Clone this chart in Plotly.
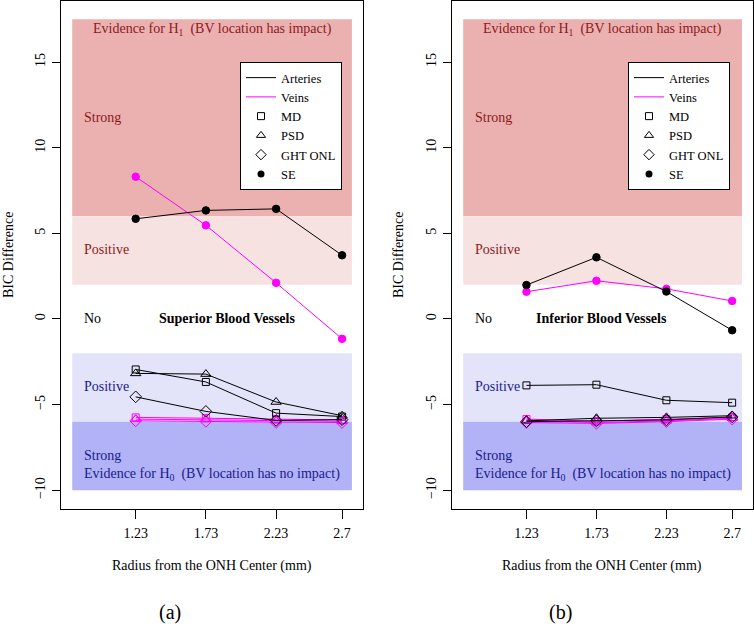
import plotly.graph_objects as go

# ---------------- data ----------------
radius = [1.23, 1.73, 2.23, 2.7]
radius_labels = ["1.23", "1.73", "2.23", "2.7"]
y_ticks = [-10, -5, 0, 5, 10, 15]

# (a) Superior blood vessels
sup_art_md = [-2.95, -3.68, -5.50, -5.70]
sup_art_psd = [-3.18, -3.22, -4.85, -5.65]
sup_art_ght = [-4.55, -5.40, -5.93, -5.88]
sup_art_se = [5.85, 6.34, 6.43, 3.72]
sup_vein_md = [-5.75, -5.78, -5.85, -5.90]
sup_vein_psd = [-5.85, -5.88, -5.95, -5.98]
sup_vein_ght = [-5.95, -5.98, -6.05, -6.05]
sup_vein_se = [8.31, 5.47, 2.11, -1.16]

# (b) Inferior blood vessels
inf_art_md = [-3.88, -3.84, -4.75, -4.89]
inf_art_psd = [-5.95, -5.80, -5.75, -5.65]
inf_art_ght = [-6.00, -5.95, -5.90, -5.72]
inf_art_se = [1.98, 3.60, 1.60, -0.66]
inf_vein_md = [-5.85, -5.98, -5.85, -5.75]
inf_vein_psd = [-5.90, -6.05, -5.95, -5.80]
inf_vein_ght = [-6.05, -6.10, -6.00, -5.85]
inf_vein_se = [1.59, 2.23, 1.76, 1.05]

# evidence bands (y from, y to, colour)
band_x = [0.778, 2.77]
bands = [
    (6, 17.5, "#EBB1B1"),
    (2, 6, "#F7E2E2"),
    (-6, -2, "#E3E3FA"),
    (-10, -6, "#B2B2F6"),
]

FONT = "Liberation Serif"
FS = 14
W, H = 754, 630
XR = [0.698, 2.849]
YR = [-11.1, 18.6]
DARKRED = "#8B1A1A"
DARKBLUE = "#1A1A8B"
MAGENTA = "#FF00FF"

fig = go.Figure()

symbols = {"md": ("square-open", 7), "psd": ("triangle-up-open", 9),
           "ght": ("diamond-open", 9), "se": ("circle", 7.5)}

panels = [
    ("x", "y", {"md": sup_art_md, "psd": sup_art_psd, "ght": sup_art_ght, "se": sup_art_se},
     {"md": sup_vein_md, "psd": sup_vein_psd, "ght": sup_vein_ght, "se": sup_vein_se}),
    ("x2", "y2", {"md": inf_art_md, "psd": inf_art_psd, "ght": inf_art_ght, "se": inf_art_se},
     {"md": inf_vein_md, "psd": inf_vein_psd, "ght": inf_vein_ght, "se": inf_vein_se}),
]

for xa, ya, art, vein in panels:
    for key in ["md", "psd", "ght", "se"]:
        sym, sz = symbols[key]
        for vals, col in [(vein[key], MAGENTA), (art[key], "black")]:
            fig.add_trace(go.Scatter(
                x=radius, y=vals, xaxis=xa, yaxis=ya, mode="lines+markers",
                line=dict(color=col, width=1),
                marker=dict(symbol=sym, size=sz, color=col, line=dict(color=col, width=1)),
                showlegend=False, hoverinfo="skip"))

# legend entries (one legend per panel)
legend_items = [
    ("Arteries", "lines", dict(color="black", width=1), None),
    ("Veins", "lines", dict(color=MAGENTA, width=1), None),
    ("MD", "markers", None, dict(symbol="square-open", size=7, color="black")),
    ("PSD", "markers", None, dict(symbol="triangle-up-open", size=8, color="black")),
    ("GHT ONL", "markers", None, dict(symbol="diamond-open", size=8, color="black")),
    ("SE", "markers", None, dict(symbol="circle", size=7, color="black")),
]
for lg, xa, ya in [("legend", "x", "y"), ("legend2", "x2", "y2")]:
    for name, mode, line, marker in legend_items:
        kw = dict(x=[None], y=[None], xaxis=xa, yaxis=ya, mode=mode, name=name,
                  showlegend=True, legend=lg)
        if line:
            kw["line"] = line
        if marker:
            kw["marker"] = marker
        fig.add_trace(go.Scatter(**kw))

# bands
for xr, yr in [("x", "y"), ("x2", "y2")]:
    for y0, y1, col in bands:
        fig.add_shape(type="rect", xref=xr, yref=yr, x0=band_x[0], x1=band_x[1],
                      y0=y0, y1=y1, fillcolor=col, line=dict(width=0), layer="below")

# annotations inside panels
def ann(xr, yr, x, y, text, color, anchor="center", size=FS):
    fig.add_annotation(xref=xr, yref=yr, x=x, y=y, text=text, showarrow=False,
                       xanchor=anchor, yanchor="middle",
                       font=dict(family=FONT, size=size, color=color))

for xr, yr, title, tx in [("x", "y", "<b>Superior Blood Vessels</b>", 1.88),
                          ("x2", "y2", "<b>Inferior Blood Vessels</b>", 1.767)]:
    ann(xr, yr, 1.774, 16.88, "Evidence for H<sub>1</sub>  (BV location has impact)", DARKRED)
    ann(xr, yr, 0.85, 11.75, "Strong", DARKRED, "left")
    ann(xr, yr, 0.85, 4.05, "Positive", DARKRED, "left")
    ann(xr, yr, 0.85, 0.0, "No", "black", "left")
    ann(xr, yr, tx, 0.0, title, "black")
    ann(xr, yr, 0.85, -3.95, "Positive", DARKBLUE, "left")
    ann(xr, yr, 0.85, -7.95, "Strong", DARKBLUE, "left")
    ann(xr, yr, 1.774, -9.1, "Evidence for H<sub>0</sub>  (BV location has no impact)", DARKBLUE)

# axis titles and panel labels (paper coords)
def pann(px, py, text, size=FS, angle=0):
    fig.add_annotation(xref="paper", yref="paper", x=px / W, y=1 - py / H, text=text,
                       showarrow=False, xanchor="center", yanchor="middle", textangle=angle,
                       font=dict(family=FONT, size=size, color="black"))

pann(212, 566, "Radius from the ONH Center (mm)")
pann(602, 566, "Radius from the ONH Center (mm)")
pann(8, 255, "BIC Difference", angle=-90)
pann(398, 255, "BIC Difference", angle=-90)
pann(170, 612, "(a)", size=20)
pann(560, 612, "(b)", size=20)

xaxis_common = dict(range=XR, tickvals=radius, ticktext=radius_labels, showgrid=False,
                    zeroline=False, showline=True, mirror=True, linecolor="black", linewidth=1,
                    ticks="outside", ticklen=9, tickcolor="black", tickwidth=1,
                    ticklabelstandoff=2,
                    tickfont=dict(family=FONT, size=FS, color="black"), fixedrange=True)
yaxis_common = dict(range=YR, tickvals=y_ticks, showgrid=False, zeroline=False, showline=True,
                    mirror=True, linecolor="black", linewidth=1, ticks="outside", ticklen=8,
                    tickcolor="black", tickwidth=1, tickangle=-90, ticklabelstandoff=1,
                    tickfont=dict(family=FONT, size=FS, color="black"), fixedrange=True)

ydom = [1 - 509 / H, 1 - 0.5 / H]
legend_common = dict(bgcolor="white", bordercolor="black", borderwidth=1,
                     font=dict(family=FONT, size=12.5, color="black"),
                     xanchor="left", yanchor="top", tracegroupgap=0, itemwidth=30)

fig.update_layout(
    width=W, height=H, margin=dict(l=0, r=0, t=0, b=0),
    paper_bgcolor="white", plot_bgcolor="white",
    xaxis=dict(domain=[61 / W, 363 / W], anchor="y", **xaxis_common),
    yaxis=dict(domain=ydom, anchor="x", **yaxis_common),
    xaxis2=dict(domain=[452 / W, 753 / W], anchor="y2", **xaxis_common),
    yaxis2=dict(domain=ydom, anchor="x2", **yaxis_common),
    legend=dict(x=240 / W, y=1 - 62 / H, **legend_common),
    legend2=dict(x=628 / W, y=1 - 62 / H, **legend_common),
    font=dict(family=FONT, color="black"),
)

fig.write_html("out.html", config={"displayModeBar": False},
               post_script="document.body.style.margin='0px';")
